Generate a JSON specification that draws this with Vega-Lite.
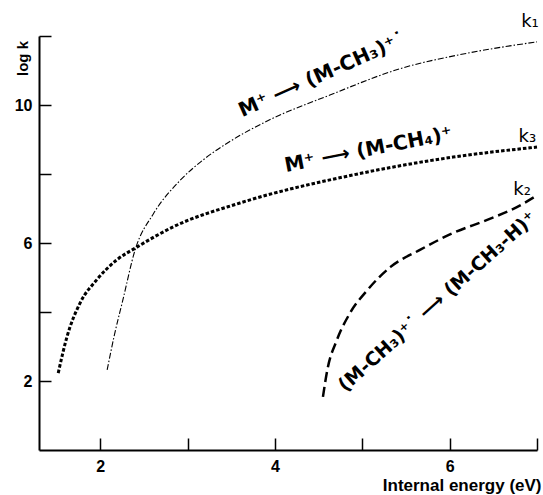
{
  "$schema": "https://vega.github.io/schema/vega-lite/v6.json",
  "width": 498,
  "height": 414,
  "autosize": "none",
  "padding": {"left": 39, "top": 36, "right": 6, "bottom": 45},
  "config": {"view": {"stroke": null}, "font": "Liberation Sans"},
  "datasets": {
    "curves": [
      {"s": "k1", "x": 2.08, "y": 2.32},
      {"s": "k1", "x": 2.16, "y": 3.3},
      {"s": "k1", "x": 2.26, "y": 4.35},
      {"s": "k1", "x": 2.40, "y": 5.8},
      {"s": "k1", "x": 2.61, "y": 6.85},
      {"s": "k1", "x": 2.91, "y": 7.8},
      {"s": "k1", "x": 3.2, "y": 8.45},
      {"s": "k1", "x": 3.49, "y": 8.95},
      {"s": "k1", "x": 3.94, "y": 9.57},
      {"s": "k1", "x": 4.63, "y": 10.29},
      {"s": "k1", "x": 5.43, "y": 11.05},
      {"s": "k1", "x": 6.2, "y": 11.5},
      {"s": "k1", "x": 7.0, "y": 11.83},
      {"s": "k3", "x": 1.52, "y": 2.23},
      {"s": "k3", "x": 1.62, "y": 3.28},
      {"s": "k3", "x": 1.77, "y": 4.26},
      {"s": "k3", "x": 1.96, "y": 4.93},
      {"s": "k3", "x": 2.19, "y": 5.51},
      {"s": "k3", "x": 2.42, "y": 5.88},
      {"s": "k3", "x": 2.83, "y": 6.46},
      {"s": "k3", "x": 3.6, "y": 7.16},
      {"s": "k3", "x": 4.89, "y": 7.97},
      {"s": "k3", "x": 6.04, "y": 8.49},
      {"s": "k3", "x": 7.0, "y": 8.78},
      {"s": "k2", "x": 4.55, "y": 1.54},
      {"s": "k2", "x": 4.60, "y": 2.32},
      {"s": "k2", "x": 4.71, "y": 3.19},
      {"s": "k2", "x": 4.86, "y": 3.97},
      {"s": "k2", "x": 5.06, "y": 4.64},
      {"s": "k2", "x": 5.32, "y": 5.30},
      {"s": "k2", "x": 5.66, "y": 5.80},
      {"s": "k2", "x": 6.04, "y": 6.29},
      {"s": "k2", "x": 6.43, "y": 6.67},
      {"s": "k2", "x": 6.77, "y": 7.04},
      {"s": "k2", "x": 7.0, "y": 7.38}
    ],
    "labels": [
      {"id": "a", "x": 4.54, "y": 10.87, "t": "M⁺ ⟶ (M-CH₃)⁺˙"},
      {"id": "b", "x": 5.07, "y": 8.7, "t": "M⁺ ⟶ (M-CH₄)⁺"},
      {"id": "c", "x": 5.86, "y": 4.3, "t": "(M-CH₃)⁺˙ ⟶ (M-CH₃-H)⁺"},
      {"id": "k", "x": 6.92, "y": 12.4, "t": "k₁"},
      {"id": "k", "x": 6.89, "y": 9.07, "t": "k₃"},
      {"id": "k", "x": 6.83, "y": 7.54, "t": "k₂"}
    ]
  },
  "layer": [
    {
      "data": {"name": "curves"},
      "transform": [{"filter": "datum.s == 'k1'"}],
      "mark": {"type": "line", "interpolate": "monotone", "color": "black", "strokeWidth": 1.1, "strokeDash": [6, 2, 1.5, 2]},
      "encoding": {
        "x": {
          "field": "x", "type": "quantitative",
          "scale": {"domain": [1.3, 7], "nice": false, "zero": false},
          "axis": {
            "values": [2, 3, 4, 5, 6, 7], "format": "d",
            "labelExpr": "datum.value % 2 == 0 ? datum.label : ''",
            "grid": false, "tickSize": -12, "labelPadding": 20,
            "domainWidth": 2, "domainColor": "black", "tickColor": "black", "tickWidth": 1.5,
            "labelColor": "black", "labelFontSize": 16, "labelFontWeight": "bold",
            "title": "Internal energy (eV)", "titleColor": "black", "titleFontSize": 17, "titleFontWeight": "bold",
            "titleAnchor": "end", "titleAlign": "right", "titleBaseline": "top", "titleX": 502, "titleY": 27
          }
        },
        "y": {
          "field": "y", "type": "quantitative",
          "scale": {"domain": [0, 12], "nice": false},
          "axis": {
            "values": [2, 4, 6, 8, 10, 12], "format": "d",
            "labelExpr": "datum.value % 4 == 2 ? datum.label : ''",
            "grid": false, "tickSize": -12, "labelPadding": 19,
            "domainWidth": 2, "domainColor": "black", "tickColor": "black", "tickWidth": 1.5,
            "labelColor": "black", "labelFontSize": 16, "labelFontWeight": "bold",
            "title": "log k", "titleColor": "black", "titleFontSize": 15, "titleFontWeight": "bold",
            "titleAngle": -90, "titleAlign": "center", "titleBaseline": "middle", "titleX": -17, "titleY": 22
          }
        }
      }
    },
    {
      "data": {"name": "curves"},
      "transform": [{"filter": "datum.s == 'k3'"}],
      "mark": {"type": "line", "interpolate": "monotone", "color": "black", "strokeWidth": 3, "strokeDash": [3.5, 2]},
      "encoding": {"x": {"field": "x", "type": "quantitative"}, "y": {"field": "y", "type": "quantitative"}}
    },
    {
      "data": {"name": "curves"},
      "transform": [{"filter": "datum.s == 'k2'"}],
      "mark": {"type": "line", "interpolate": "monotone", "color": "black", "strokeWidth": 2.5, "strokeDash": [10, 5]},
      "encoding": {"x": {"field": "x", "type": "quantitative"}, "y": {"field": "y", "type": "quantitative"}}
    },
    {
      "data": {"name": "labels"},
      "transform": [{"filter": "datum.id == 'a'"}],
      "mark": {"type": "text", "angle": -24, "font": "DejaVu Sans", "fontSize": 20, "fontWeight": "bold", "color": "black"},
      "encoding": {"x": {"field": "x", "type": "quantitative"}, "y": {"field": "y", "type": "quantitative"}, "text": {"field": "t"}}
    },
    {
      "data": {"name": "labels"},
      "transform": [{"filter": "datum.id == 'b'"}],
      "mark": {"type": "text", "angle": -11, "font": "DejaVu Sans", "fontSize": 20, "fontWeight": "bold", "color": "black"},
      "encoding": {"x": {"field": "x", "type": "quantitative"}, "y": {"field": "y", "type": "quantitative"}, "text": {"field": "t"}}
    },
    {
      "data": {"name": "labels"},
      "transform": [{"filter": "datum.id == 'c'"}],
      "mark": {"type": "text", "angle": -42, "font": "DejaVu Sans", "fontSize": 19, "fontWeight": "bold", "color": "black"},
      "encoding": {"x": {"field": "x", "type": "quantitative"}, "y": {"field": "y", "type": "quantitative"}, "text": {"field": "t"}}
    },
    {
      "data": {"name": "labels"},
      "transform": [{"filter": "datum.id == 'k'"}],
      "mark": {"type": "text", "font": "DejaVu Sans", "fontSize": 18, "color": "black"},
      "encoding": {"x": {"field": "x", "type": "quantitative"}, "y": {"field": "y", "type": "quantitative"}, "text": {"field": "t"}}
    }
  ]
}
